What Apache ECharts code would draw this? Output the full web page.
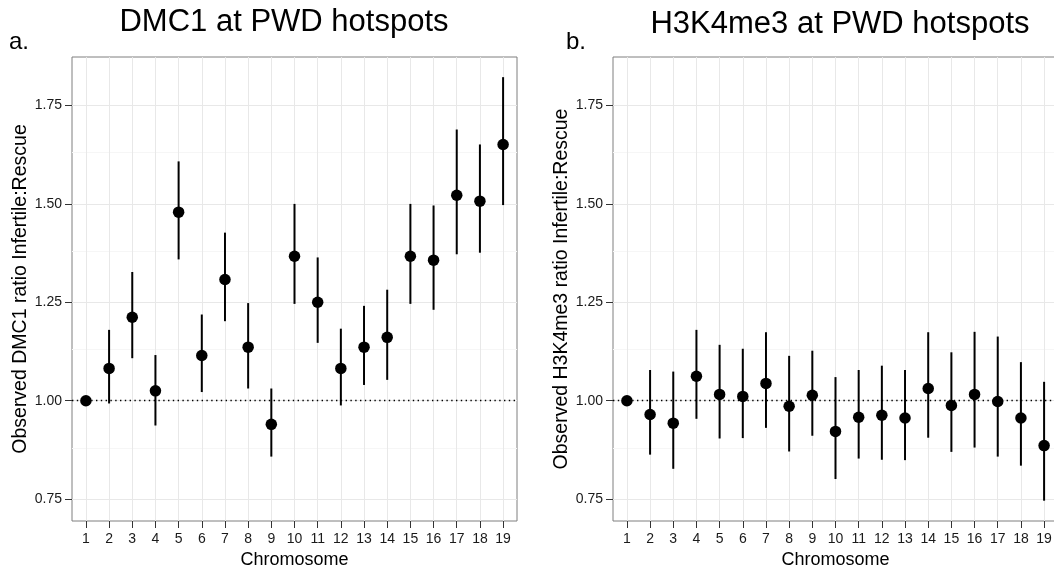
<!DOCTYPE html>
<html>
<head>
<meta charset="utf-8">
<script src="https://cdn.jsdelivr.net/npm/echarts@6/dist/echarts.min.js"></script>
<style>
  html, body { margin: 0; padding: 0; background: #fff; }
  #chart { width: 1054px; height: 567px; }
</style>
</head>
<body>
<div id="chart"></div>
<script>
// Chromosomes along the x axis
const chromosomes = [1, 2, 3, 4, 5, 6, 7, 8, 9, 10, 11, 12, 13, 14, 15, 16, 17, 18, 19];
const chromosomeLabels = chromosomes.map(String);

// Panel a: DMC1 ratio Infertile:Rescue with confidence interval
const dmc1Ratio = [1.000, 1.082, 1.212, 1.025, 1.479, 1.115, 1.308, 1.136, 0.940, 1.367,
                   1.250, 1.082, 1.136, 1.161, 1.367, 1.357, 1.522, 1.507, 1.651];
const dmc1Lower = [1.000, 0.993, 1.108, 0.937, 1.359, 1.022, 1.202, 1.031, 0.858, 1.246,
                   1.147, 0.988, 1.040, 1.053, 1.246, 1.231, 1.372, 1.376, 1.497];
const dmc1Upper = [1.000, 1.180, 1.327, 1.116, 1.608, 1.219, 1.427, 1.248, 1.031, 1.500,
                   1.364, 1.183, 1.241, 1.282, 1.500, 1.496, 1.689, 1.651, 1.822];

// Panel b: H3K4me3 ratio Infertile:Rescue with confidence interval
const h3Ratio = [1.000, 0.965, 0.943, 1.062, 1.016, 1.011, 1.044, 0.986, 1.014, 0.922,
                 0.958, 0.963, 0.956, 1.031, 0.988, 1.016, 0.998, 0.956, 0.886];
const h3Lower = [1.000, 0.863, 0.827, 0.954, 0.904, 0.905, 0.931, 0.871, 0.911, 0.801,
                 0.853, 0.850, 0.849, 0.906, 0.870, 0.881, 0.858, 0.835, 0.746];
const h3Upper = [1.000, 1.078, 1.074, 1.180, 1.142, 1.132, 1.174, 1.114, 1.127, 1.060,
                 1.078, 1.089, 1.078, 1.174, 1.123, 1.175, 1.163, 1.098, 1.048];

// Axis ticks
const yTicks = [0.75, 1.00, 1.25, 1.50, 1.75];
const yMinorLines = [0.875, 1.125, 1.375, 1.625];
const referenceRatio = 1.0;

const FONT = '"Liberation Sans", Arial, Helvetica, sans-serif';
const Y_MIN = 0.6944, Y_MAX = 1.8732;

const chart = echarts.init(document.getElementById('chart'), null, { renderer: 'canvas' });

function xAxisFor(gridIndex) {
  return {
    type: 'value', gridIndex, min: 0.4, max: 19.6,
    axisLine: { show: false },
    axisTick: { show: true, customValues: chromosomes, length: 7, lineStyle: { color: '#333', width: 1 } },
    axisLabel: {
      customValues: chromosomes,
      formatter: v => chromosomeLabels[chromosomes.indexOf(v)],
      fontFamily: FONT, fontSize: 14, color: '#1a1a1a', margin: 11
    },
    splitLine: { show: false },
    name: 'Chromosome', nameLocation: 'middle', nameGap: 25,
    nameTextStyle: { fontFamily: FONT, fontSize: 18, color: '#000' }
  };
}

function yAxisFor(gridIndex, title) {
  return {
    type: 'value', gridIndex, min: Y_MIN, max: Y_MAX,
    axisLine: { show: false },
    axisTick: { show: true, customValues: yTicks, length: 7, lineStyle: { color: '#333', width: 1 } },
    axisLabel: {
      customValues: yTicks, formatter: v => v.toFixed(2),
      fontFamily: FONT, fontSize: 14, color: '#1a1a1a', margin: 10
    },
    splitLine: { show: false },
    name: title, nameLocation: 'middle', nameGap: 41,
    nameTextStyle: { fontFamily: FONT, fontSize: 19.5, color: '#000' }
  };
}

// Background grid lines drawn at data values (major + faint minor)
function gridSeries(idx) {
  const lines = [];
  yMinorLines.forEach(v => lines.push({ yAxis: v, lineStyle: { color: '#f6f6f6', width: 1, type: 'solid' } }));
  yTicks.forEach(v => lines.push({ yAxis: v, lineStyle: { color: '#e8e8e8', width: 1, type: 'solid' } }));
  chromosomes.forEach(v => lines.push({ xAxis: v, lineStyle: { color: '#e8e8e8', width: 1, type: 'solid' } }));
  return {
    type: 'line', xAxisIndex: idx, yAxisIndex: idx, data: [], z: 1,
    markLine: { silent: true, z: 1, symbol: 'none', label: { show: false }, animation: false, data: lines }
  };
}

// Dotted reference line at ratio 1
function refLineSeries(idx) {
  return {
    type: 'line', xAxisIndex: idx, yAxisIndex: idx, data: [], z: 2,
    markLine: {
      silent: true, z: 2, symbol: 'none', label: { show: false }, animation: false,
      lineStyle: { color: '#000', width: 1.4, type: [1.4, 3.4] },
      data: [{ yAxis: referenceRatio }]
    }
  };
}

function errorBarSeries(idx, lower, upper) {
  const data = chromosomes.map((c, i) => [c, lower[i], upper[i]]).filter(d => d[2] > d[1]);
  return {
    type: 'custom', xAxisIndex: idx, yAxisIndex: idx, z: 3, data,
    renderItem(params, api) {
      const a = api.coord([api.value(0), api.value(1)]);
      const b = api.coord([api.value(0), api.value(2)]);
      return { type: 'line', shape: { x1: a[0], y1: a[1], x2: b[0], y2: b[1] },
               style: { stroke: '#000', lineWidth: 2 } };
    }
  };
}

function pointSeries(idx, values) {
  return {
    type: 'scatter', xAxisIndex: idx, yAxisIndex: idx, z: 4,
    data: chromosomes.map((c, i) => [c, values[i]]),
    symbol: 'circle', symbolSize: 11.5,
    itemStyle: { color: '#000', opacity: 1 }
  };
}

const gridBox = { top: 57, height: 464, width: 445, show: true, borderColor: '#7f7f7f', borderWidth: 1,
                  backgroundColor: '#fff', outerBoundsMode: 'none', containLabel: false };

chart.setOption({
  animation: false,
  grid: [
    Object.assign({ left: 72 }, gridBox),
    Object.assign({ left: 613 }, gridBox)
  ],
  xAxis: [xAxisFor(0), xAxisFor(1)],
  yAxis: [
    yAxisFor(0, 'Observed DMC1 ratio Infertile:Rescue'),
    yAxisFor(1, 'Observed H3K4me3 ratio Infertile:Rescue')
  ],
  graphic: [
    { type: 'text', x: 284, y: 7, style: { text: 'DMC1 at PWD hotspots', font: '31px ' + FONT, fill: '#000', textAlign: 'center', textVerticalAlign: 'top' } },
    { type: 'text', x: 840, y: 9, style: { text: 'H3K4me3 at PWD hotspots', font: '31px ' + FONT, fill: '#000', textAlign: 'center', textVerticalAlign: 'top' } },
    { type: 'text', x: 9, y: 30, style: { text: 'a.', font: '24px ' + FONT, fill: '#000', textVerticalAlign: 'top' } },
    { type: 'text', x: 566, y: 30, style: { text: 'b.', font: '24px ' + FONT, fill: '#000', textVerticalAlign: 'top' } }
  ],
  series: [
    gridSeries(0), gridSeries(1),
    refLineSeries(0), refLineSeries(1),
    errorBarSeries(0, dmc1Lower, dmc1Upper),
    errorBarSeries(1, h3Lower, h3Upper),
    pointSeries(0, dmc1Ratio),
    pointSeries(1, h3Ratio)
  ]
});
</script>
</body>
</html>
